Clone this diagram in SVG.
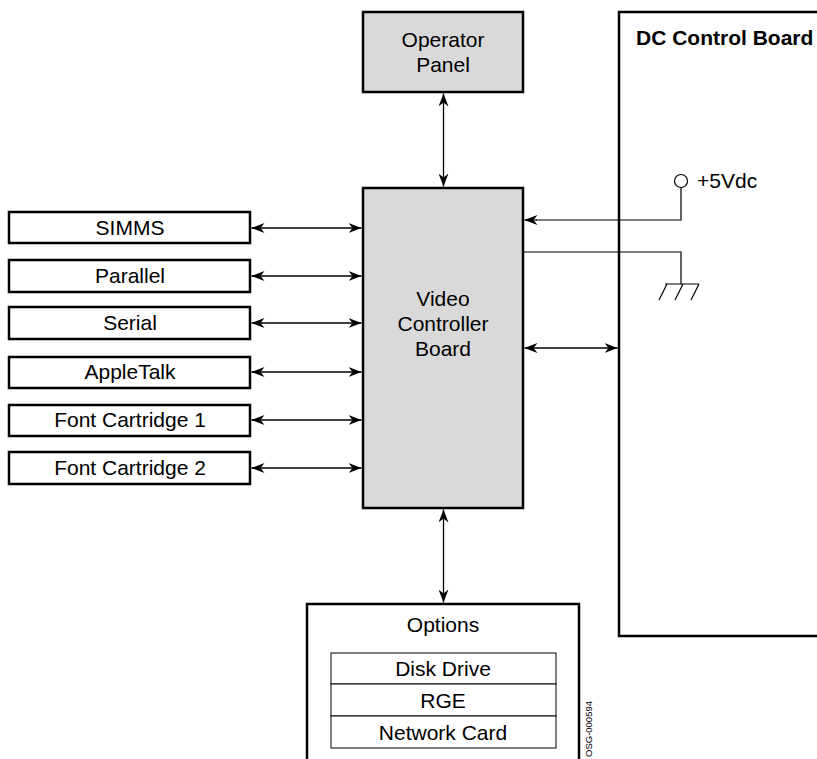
<svg xmlns="http://www.w3.org/2000/svg" width="817" height="759" viewBox="0 0 817 759">
<defs>
<marker id="ah" viewBox="0 0 13 10" refX="13" refY="5" markerWidth="13" markerHeight="10" markerUnits="userSpaceOnUse" orient="auto-start-reverse">
<path d="M0,0 L13,5 L0,10 L4,5 z" fill="#000"/>
</marker>
</defs>
<style>
.box{fill:#fff;stroke:#000;stroke-width:2.5}
.gbox{fill:#d9d9d9;stroke:#000;stroke-width:2.5}
.thin{fill:none;stroke:#000;stroke-width:1.2}
.cell{fill:#fff;stroke:#000;stroke-width:1}
.arr{fill:none;stroke:#000;stroke-width:1.3;marker-start:url(#ah);marker-end:url(#ah)}
text{font-family:"Liberation Sans",Arial,sans-serif;font-size:21px;fill:#000;text-anchor:middle}
.b{font-weight:bold;text-anchor:start}
.s{text-anchor:start}
.id{font-size:9.5px;text-anchor:end}
</style>
<rect width="817" height="759" fill="#fff"/>
<g id="dc-board">
<rect class="box" x="619" y="12" width="230" height="624"/>
<text class="b" x="636" y="45">DC Control Board</text>
<circle cx="681" cy="181" r="6.5" fill="#fff" stroke="#000" stroke-width="1.2"/>
<text class="s" x="697" y="188">+5Vdc</text>
<path class="thin" d="M665,284 H699 M667,284 L659,300 M683,284 L675,300 M699,284 L691,300"/>
</g>
<g id="operator-panel">
<rect class="gbox" x="363" y="12" width="160" height="80"/>
<text x="443" y="47">Operator</text>
<text x="443" y="72">Panel</text>
</g>
<g id="video-controller">
<rect class="gbox" x="363" y="188" width="160" height="320"/>
<text x="443" y="306">Video</text>
<text x="443" y="331">Controller</text>
<text x="443" y="356">Board</text>
</g>
<g id="simms"><rect class="box" x="9" y="212" width="241" height="31"/><text x="130" y="235">SIMMS</text></g>
<g id="parallel"><rect class="box" x="9" y="260" width="241" height="32"/><text x="130" y="283">Parallel</text></g>
<g id="serial"><rect class="box" x="9" y="307" width="241" height="32"/><text x="130" y="330">Serial</text></g>
<g id="appletalk"><rect class="box" x="9" y="357" width="241" height="31"/><text x="130" y="379">AppleTalk</text></g>
<g id="font-cartridge-1"><rect class="box" x="9" y="405" width="241" height="31"/><text x="130" y="427">Font Cartridge 1</text></g>
<g id="font-cartridge-2"><rect class="box" x="9" y="452" width="241" height="32"/><text x="130" y="475">Font Cartridge 2</text></g>
<g id="options">
<rect class="box" x="307" y="604" width="272" height="170"/>
<text x="443" y="632">Options</text>
<rect class="cell" x="331" y="653" width="225" height="31"/>
<rect class="cell" x="331" y="684" width="225" height="32"/>
<rect class="cell" x="331" y="716" width="225" height="32"/>
<text x="443" y="676">Disk Drive</text>
<text x="443" y="708">RGE</text>
<text x="443" y="740">Network Card</text>
</g>
<g id="connectors">
<line class="arr" x1="443.5" y1="93.5" x2="443.5" y2="186.5"/>
<line class="arr" x1="443.5" y1="509.5" x2="443.5" y2="602.5"/>
<line class="arr" x1="251.5" y1="228" x2="361.5" y2="228"/>
<line class="arr" x1="251.5" y1="276" x2="361.5" y2="276"/>
<line class="arr" x1="251.5" y1="323" x2="361.5" y2="323"/>
<line class="arr" x1="251.5" y1="372" x2="361.5" y2="372"/>
<line class="arr" x1="251.5" y1="420" x2="361.5" y2="420"/>
<line class="arr" x1="251.5" y1="468" x2="361.5" y2="468"/>
<line class="arr" x1="524.5" y1="348" x2="617.5" y2="348"/>
<path class="thin" d="M681,187.5 V220 H536"/>
<line x1="537" y1="220" x2="524.5" y2="220" stroke="#000" stroke-width="1.2" marker-end="url(#ah)"/>
<path class="thin" d="M523,252 H681 V284"/>
</g>
<text class="id" x="592" y="701" transform="rotate(-90 592 701)">OSG-000594</text>
</svg>
